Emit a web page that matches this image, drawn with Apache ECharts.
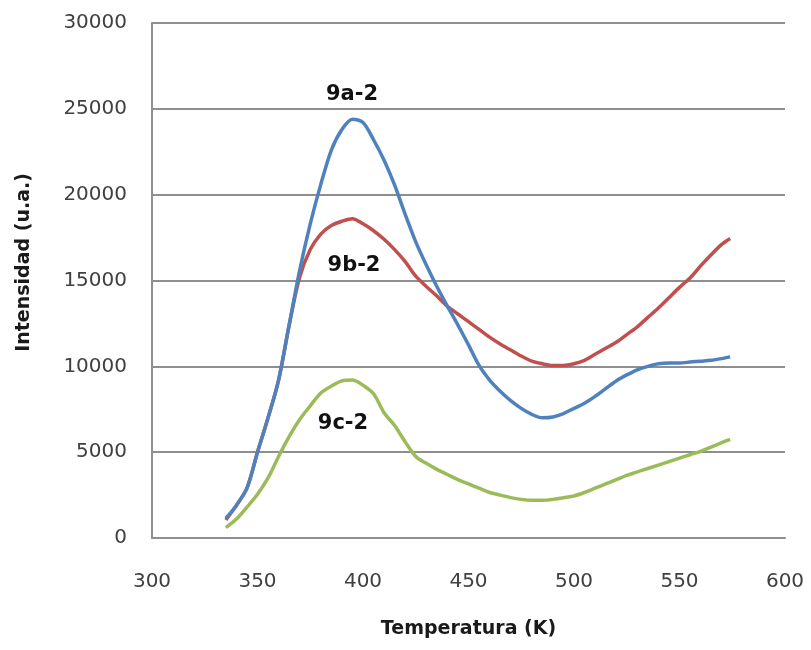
<!DOCTYPE html>
<html>
<head>
<meta charset="utf-8">
<script src="https://cdn.jsdelivr.net/npm/echarts@6/dist/echarts.min.js"></script>
<style>
  html, body { margin: 0; padding: 0; background: #ffffff; }
  #chart { width: 811px; height: 650px; }
</style>
</head>
<body>
<div id="chart"></div>
<script>
// Temperature (K) sampled every 5 K
const temperature = [335, 340, 345, 350, 355, 360, 365, 370, 375, 380, 385, 390, 395, 400,
  405, 410, 415, 420, 425, 430, 435, 440, 445, 450, 455, 460, 465, 470, 475, 480, 485, 490,
  495, 500, 505, 510, 515, 520, 525, 530, 535, 540, 545, 550, 555, 560, 565, 570, 574];

// Intensity (a.u.) for each sample
const s9a2 = [1150, 1900, 2900, 5000, 7000, 9200, 12400, 15600, 18300, 20600, 22600, 23800, 24400, 24200,
  23200, 22000, 20550, 18850, 17250, 15900, 14650, 13500, 12400, 11250, 10050, 9200, 8550, 8000, 7550, 7200, 7000, 7050,
  7250, 7550, 7850, 8250, 8700, 9150, 9500, 9800, 10000, 10150, 10200, 10200, 10250, 10300, 10350, 10450, 10550];

const s9b2 = [1050, 1900, 2900, 5000, 7000, 9200, 12400, 15200, 16800, 17700, 18200, 18450, 18600, 18300,
  17900, 17400, 16800, 16100, 15250, 14650, 14100, 13500, 13050, 12600, 12150, 11700, 11300, 10950, 10600, 10300, 10150, 10050,
  10050, 10150, 10350, 10700, 11050, 11400, 11850, 12300, 12850, 13400, 14000, 14600, 15150, 15850, 16500, 17100, 17450];

const s9c2 = [600, 1100, 1800, 2550, 3500, 4750, 5900, 6900, 7700, 8450, 8850, 9150, 9200, 8900,
  8400, 7300, 6550, 5600, 4750, 4350, 4000, 3700, 3400, 3150, 2900, 2650, 2500, 2350, 2250, 2200, 2200, 2250,
  2350, 2450, 2650, 2900, 3150, 3400, 3650, 3850, 4050, 4250, 4450, 4650, 4850, 5050, 5300, 5550, 5750];

const seriesNames = ['9a-2', '9b-2', '9c-2'];
const seriesColors = ['#4F81BD', '#C0504D', '#9BBB59'];
const seriesValues = [s9a2, s9b2, s9c2];

const xTitle = 'Temperatura (K)';
const yTitle = 'Intensidad (u.a.)';

const chart = echarts.init(document.getElementById('chart'), null, { renderer: 'canvas' });

const gridColor = '#8f8f8f';
const tickFont = { fontFamily: 'DejaVu Sans', fontSize: 20, color: '#404040' };
const plainNumber = v => String(v);

const option = {
  backgroundColor: '#ffffff',
  animation: false,
  grid: { left: 152, right: 26, top: 23, bottom: 112 },
  xAxis: {
    type: 'value',
    min: 300, max: 600, interval: 50,
    name: xTitle,
    nameLocation: 'middle',
    nameGap: 82,
    nameTextStyle: { fontFamily: 'DejaVu Sans', fontWeight: 'bold', fontSize: 19, color: '#1a1a1a' },
    axisLine: { show: true, lineStyle: { color: gridColor, width: 2 } },
    axisTick: { show: false },
    splitLine: { show: false },
    axisLabel: Object.assign({ margin: 34, formatter: plainNumber }, tickFont)
  },
  yAxis: {
    type: 'value',
    min: 0, max: 30000, interval: 5000,
    name: yTitle,
    nameLocation: 'middle',
    nameGap: 118,
    nameTextStyle: { fontFamily: 'DejaVu Sans', fontWeight: 'bold', fontSize: 19, color: '#1a1a1a', padding: [0, 0, 0, 36] },
    axisLine: { show: true, lineStyle: { color: gridColor, width: 2 } },
    axisTick: { show: false },
    splitLine: { show: true, lineStyle: { color: gridColor, width: 2 } },
    axisLabel: Object.assign({ margin: 25, formatter: plainNumber }, tickFont)
  },
  series: seriesNames.map((name, i) => ({
    name: name,
    type: 'line',
    data: temperature.map((t, k) => [t, seriesValues[i][k]]),
    showSymbol: false,
    smooth: 0.3,
    lineStyle: { color: seriesColors[i], width: 3.5 },
    itemStyle: { color: seriesColors[i] },
    z: 3 - i
  })),
  graphic: [
    { type: 'text', x: 352, y: 95, style: { text: '9a-2', fontFamily: 'DejaVu Sans', fontWeight: 'bold', fontSize: 21, fill: '#111', align: 'center', verticalAlign: 'middle' } },
    { type: 'text', x: 354, y: 266, style: { text: '9b-2', fontFamily: 'DejaVu Sans', fontWeight: 'bold', fontSize: 21, fill: '#111', align: 'center', verticalAlign: 'middle' } },
    { type: 'text', x: 343, y: 424, style: { text: '9c-2', fontFamily: 'DejaVu Sans', fontWeight: 'bold', fontSize: 21, fill: '#111', align: 'center', verticalAlign: 'middle' } }
  ]
};

chart.setOption(option);
</script>
</body>
</html>
